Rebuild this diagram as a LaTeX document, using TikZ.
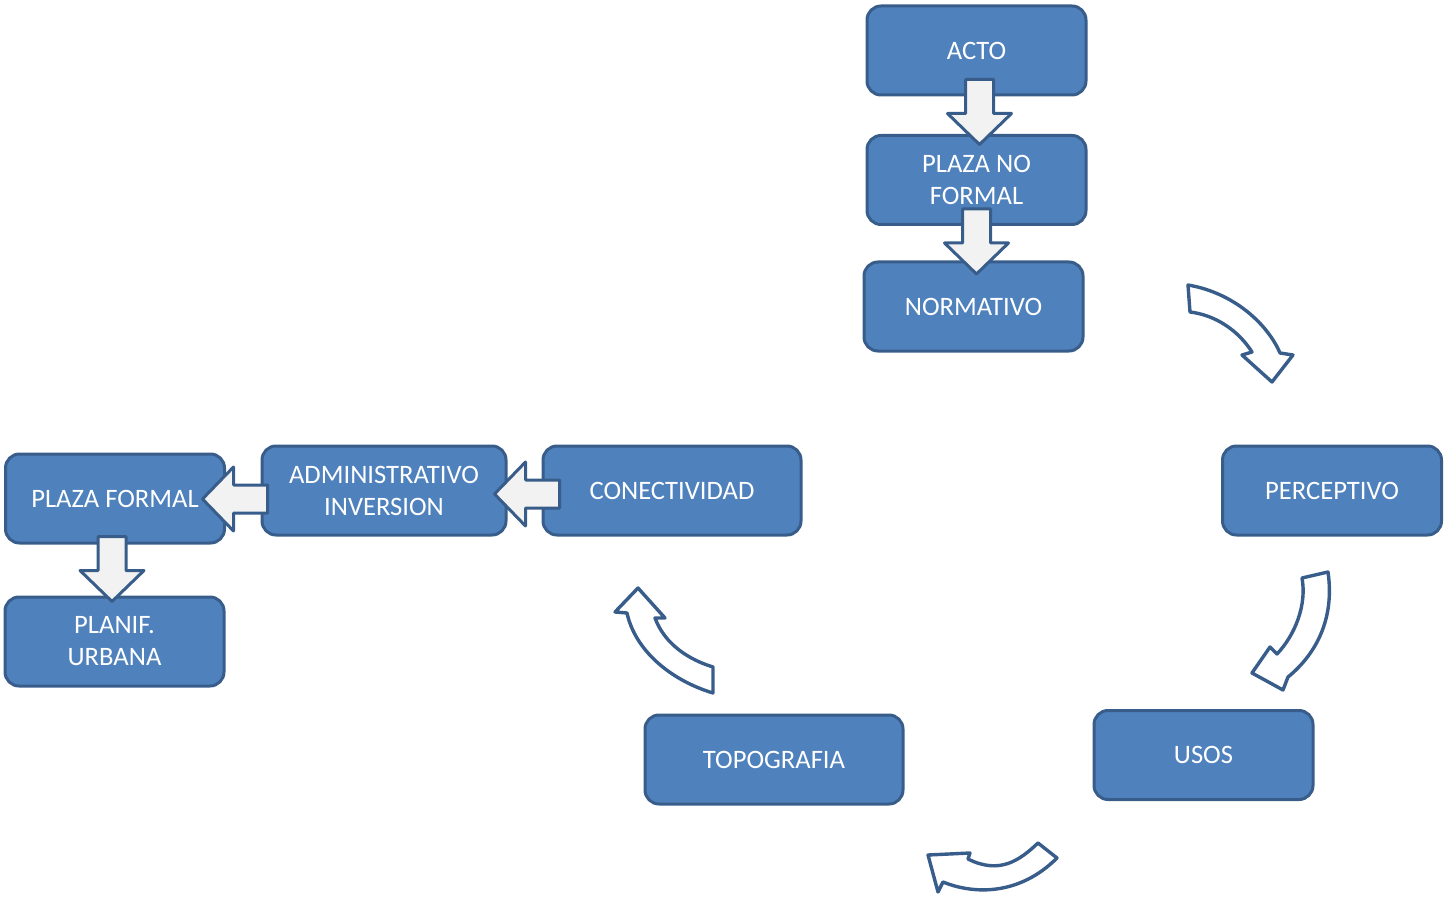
\documentclass[tikz,border=0pt]{standalone}
\usepackage{fontspec}
\setmainfont{Carlito}
\usetikzlibrary{calc}
\definecolor{azul}{HTML}{4F81BD}
\definecolor{borde}{HTML}{385D8A}
\definecolor{claro}{HTML}{F2F2F2}
\tikzset{
  caja/.style={rectangle, rounded corners=7pt, draw=borde, fill=azul, line width=1.5pt,
    text=white, minimum width=109.5pt, minimum height=44.5pt, align=center,
    font=\fontsize{13.3}{16}\selectfont},
  flechita/.style={draw=borde, fill=claro, line width=1.5pt, line join=round},
  curva/.style={flechita, fill=white, line width=1.7pt},
  bloque/.pic={\draw[flechita] (-14,-32) -- (-14,2) -- (-32,2) -- (0,33) -- (32,2) -- (14,2) -- (14,-32) -- cycle;}
}
\begin{document}
\begin{tikzpicture}[x=0.5pt, y=-0.5pt]
  \useasboundingbox (0,0) rectangle (1448,899);
  % cajas
  \node[caja] (acto) at (976.5,50.5) {ACTO};
  \node[caja] (pnf) at (976.5,180) {PLAZA NO\\FORMAL};
  \node[caja] (norm) at (973.5,306.5) {NORMATIVO};
  \node[caja] (perc) at (1332,490.5) {PERCEPTIVO};
  \node[caja] (usos) at (1203.5,755) {USOS};
  \node[caja, minimum width=129pt] (topo) at (774,759.5) {TOPOGRAFIA};
  \node[caja, minimum width=129pt] (conec) at (672,490.5) {CONECTIVIDAD};
  \node[caja, minimum width=122pt] (admin) at (384,490.5) {ADMINISTRATIVO\\INVERSION};
  \node[caja] (pformal) at (115,498.5) {PLAZA FORMAL};
  \node[caja] (planif) at (114.5,641.5) {PLANIF.\\URBANA};
  % flechas rectas
  \pic at ($(acto.south)+(3,15)$) {bloque};
  \pic at ($(pnf.south)+(0,15)$) {bloque};
  \pic[rotate=-90] at ($(admin.west)+(-25,8.5)$) {bloque};
  \pic[rotate=-90] at ($(conec.west)+(-14,3.5)$) {bloque};
  \pic at ($(pformal.south)+(-3,24)$) {bloque};
  % flechas curvas
  \draw[curva] (1188,285) .. controls (1235,293) and (1268,325) .. (1280,353)
    -- (1293,355) -- (1272,382) -- (1242,355) -- (1252,352)
    .. controls (1238,330) and (1215,315) .. (1190,312) -- cycle;
  \draw[curva] (1328,572) .. controls (1335,620) and (1315,655) .. (1288,677)
    -- (1283,690) -- (1252,673) -- (1270,647) -- (1277,654)
    .. controls (1295,635) and (1307,605) .. (1302,578) -- cycle;
  \draw[curva] (1057,858) .. controls (1020,895) and (975,895) .. (943,882)
    -- (938,892) -- (928,855) -- (970,853) -- (968,859)
    .. controls (1000,875) and (1020,860) .. (1038,843) -- cycle;
  \draw[curva] (713,693) .. controls (670,680) and (635,650) .. (627,613)
    -- (615,612) -- (638,588) -- (665,618) -- (655,618)
    .. controls (665,645) and (690,660) .. (713,667) -- cycle;
\end{tikzpicture}
\end{document}
